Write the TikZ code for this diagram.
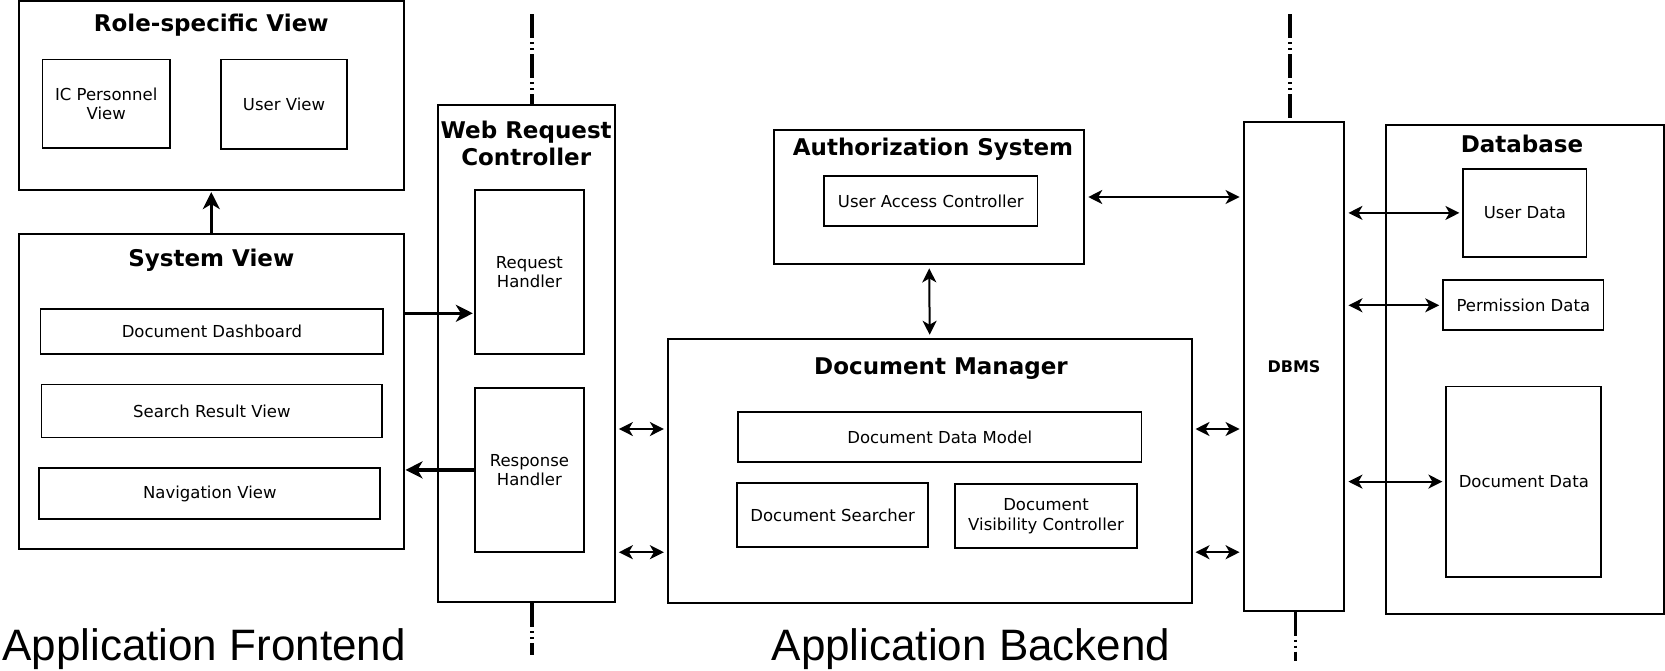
\documentclass[tikz,border=0pt]{standalone}
\usepackage{fontspec}
\setmainfont{DejaVu Sans}
\newfontfamily\captionfont{Liberation Sans}
\usepackage{tikz}
\usetikzlibrary{arrows.meta, positioning, calc}
\tikzset{
	every node/.style={
		align=center,
	},
}
\tikzstyle{component} = [rectangle, draw, line width=2pt, inner sep=0pt]
\tikzstyle{part} = [rectangle, draw, line width=1.8pt, inner sep=0pt, font=\fontsize{16.5}{19.5}\selectfont]
\tikzstyle{title} = [font=\bfseries\fontsize{23}{27.6}\selectfont, anchor=base, inner sep=0pt]
\tikzstyle{request} = [-{Stealth[length=17pt, width=17pt, inset=5pt]}, line width=3.5pt, shorten >=1pt]
\tikzstyle{link} = [{Stealth[length=14pt, width=14pt, inset=4pt]}-{Stealth[length=14pt, width=14pt, inset=4pt]}, line width=2pt, shorten <=3pt, shorten >=3pt]
\tikzstyle{tier} = [line width=3.5pt, dash pattern=on 24pt off 4pt on 2pt off 4pt on 2pt off 4pt]
\tikzstyle{side} = [font=\captionfont\fontsize{44}{50}\selectfont, anchor=base, inner sep=0pt]

\begin{document}
\begin{tikzpicture}[x=1pt, y=-1pt]
    \useasboundingbox (0,0) rectangle (1665,670);

    % frontend
    \node (role) [component, minimum width=384.4pt, minimum height=189pt] at (211.3,95.6) {};
    \node (roletitle) [title] at (211.3,31.5) {Role-specific View};
    \node (icview) [part, minimum width=127.4pt, minimum height=88.1pt] at (106.2,103.6) {IC Personnel\\View};
    \node (userview) [part, minimum width=126.3pt, minimum height=89.2pt] at (284,104.1) {User View};

    \node (sysview) [component, minimum width=384.4pt, minimum height=315.4pt] at (211.3,391.3) {};
    \node (systitle) [title] at (211.3,266) {System View};
    \node (dash) [part, minimum width=342.9pt, minimum height=44.6pt] at (211.9,331.3) {Document Dashboard};
    \node (search) [part, minimum width=340.9pt, minimum height=53.1pt] at (211.9,411) {Search Result View};
    \node (nav) [part, minimum width=340.9pt, minimum height=51pt] at (209.8,493.8) {Navigation View};

    \node (wrc) [component, minimum width=177.3pt, minimum height=497pt] at (526.2,353.6) {};
    \node (wrctitle) [title, anchor=center] at (526.2,143.4) {Web Request\\Controller};
    \node (reqh) [part, minimum width=109.3pt, minimum height=163.5pt] at (529.4,271.9) {Request\\Handler};
    \node (resph) [part, minimum width=109.3pt, minimum height=164.6pt] at (529.4,469.9) {Response\\Handler};

    % backend
    \node (auth) [component, minimum width=310.1pt, minimum height=134.8pt] at (929.2,197) {};
    \node (authtitle) [title] at (933,155.6) {Authorization System};
    \node (uac) [part, minimum width=213.5pt, minimum height=49.9pt] at (930.8,201.3) {User Access Controller};

    \node (docmgr) [component, minimum width=523.6pt, minimum height=264.5pt] at (929.7,471) {};
    \node (dmtitle) [title] at (941,374.4) {Document Manager};
    \node (ddm) [part, minimum width=403.5pt, minimum height=49.9pt] at (939.8,437) {Document Data Model};
    \node (dsearch) [part, minimum width=191.1pt, minimum height=63.7pt] at (832.6,515) {Document Searcher};
    \node (dvis) [part, minimum width=182.6pt, minimum height=63.7pt] at (1046,516) {Document\\Visibility Controller};

    \node (dbms) [component, minimum width=100.9pt, minimum height=488.5pt] at (1294,366.4) {\bfseries\fontsize{16}{19}\selectfont DBMS};

    \node (db) [component, minimum width=278.2pt, minimum height=488.5pt] at (1524.9,369.6) {};
    \node (dbtitle) [title] at (1522,152.4) {Database};
    \node (udata) [part, minimum width=123.2pt, minimum height=88.2pt] at (1524.9,212.9) {User Data};
    \node (pdata) [part, minimum width=160.4pt, minimum height=50pt] at (1523.3,305.3) {Permission Data};
    \node (ddata) [part, minimum width=155pt, minimum height=190.1pt] at (1523.8,481.6) {Document Data};

    \node (frontend) [side] at (204,660) {Application Frontend};
    \node (backend) [side] at (971,660) {Application Backend};

    % tier boundaries
    \coordinate (tierA) at (532,14);
    \coordinate (tierAb) at (532,655);
    \coordinate (tierB) at (1290,14);
    \coordinate (tierBb) at (1295.5,661);
    \draw[tier] (tierA) -- (tierA |- wrc.north);
    \draw[tier] (tierAb |- wrc.south) -- (tierAb);
    \draw[tier] (tierB) -- (tierB |- dbms.north);
    \draw[tier] (tierBb |- dbms.south) -- (tierBb);

    % requests and responses
    \coordinate (reqin) at ([yshift=-41.4pt]reqh.west);
    \draw[request] (sysview.north) -- (role.south);
    \draw[request] (sysview.east |- reqin) -- (reqin);
    \draw[request] (resph.west) -- (sysview.east |- resph.west);

    % data links
    \coordinate (busA) at (0,429);
    \coordinate (busB) at (0,552.2);
    \draw[link] (auth.south) -- (docmgr.north);
    \draw[link] (auth.east) -- (dbms.west |- auth.east);
    \draw[link] (wrc.east |- busA) -- (docmgr.west |- busA);
    \draw[link] (wrc.east |- busB) -- (docmgr.west |- busB);
    \draw[link] (docmgr.east |- busA) -- (dbms.west |- busA);
    \draw[link] (docmgr.east |- busB) -- (dbms.west |- busB);
    \draw[link] (dbms.east |- udata.west) -- (udata.west);
    \draw[link] (dbms.east |- pdata.west) -- (pdata.west);
    \draw[link] (dbms.east |- ddata.west) -- (ddata.west);
\end{tikzpicture}
\end{document}
